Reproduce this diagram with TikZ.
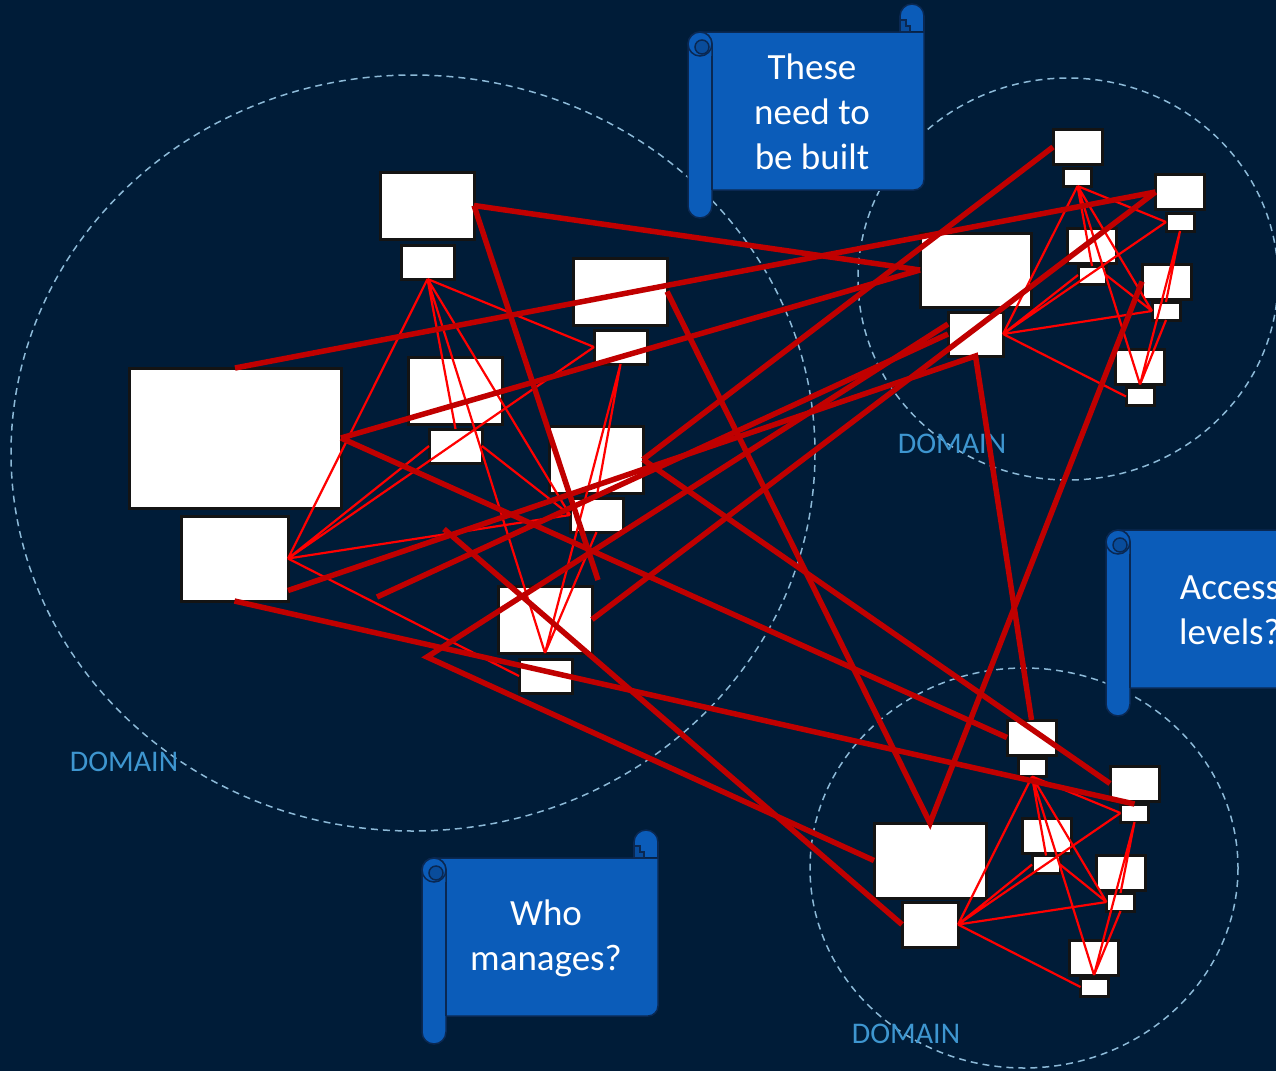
\documentclass[tikz,border=0pt]{standalone}
\usepackage{fontspec}
\setmainfont{Carlito}
\definecolor{navy}{RGB}{0,28,56}
\definecolor{scrollblue}{RGB}{11,92,185}
\definecolor{scrolldark}{RGB}{9,76,155}
\definecolor{scrolledge}{RGB}{10,40,82}
\definecolor{domline}{RGB}{140,185,215}
\definecolor{domtext}{RGB}{62,150,208}
\definecolor{boxedge}{RGB}{20,20,20}
\definecolor{wiredark}{RGB}{192,0,0}
\definecolor{wirered}{RGB}{255,0,0}
\newcommand{\scrollbox}[3]{%
  \begin{scope}[shift={(#1,#2)},line width=1.5pt]
    \filldraw[fill=scrollblue,draw=scrolledge] (12,0) -- (236,0) -- (236,148)
      arc[start angle=0,end angle=90,radius=10] -- (12,158) -- cycle;
    \filldraw[fill=scrollblue,draw=scrolledge] (224,-16) circle[radius=12];
    \fill[scrollblue] (212.8,-16) rectangle (235.2,-0.8);
    \draw[scrolledge] (212,-16) -- (212,0) (236,-16) -- (236,0);
    \filldraw[fill=scrolldark,draw=scrolledge] (212,0) -- (212,-12) -- (218,-12) -- (218,-6) -- (222,-6) -- (222,0) -- cycle;
    \filldraw[fill=scrollblue,draw=scrolledge,rounded corners=12pt] (0,0) rectangle (24,186);
    \filldraw[fill=scrollblue,draw=scrolledge] (12,12) circle[radius=12];
    \filldraw[fill=scrolldark,draw=scrolledge] (14,15) circle[radius=7];
    \draw[scrolledge] (24,24) -- (24,158);
    \node[text=white,align=center,font=\fontsize{37}{45}\selectfont] at (124,80) {#3};
  \end{scope}}
\begin{document}
\begin{tikzpicture}[x=1pt,y=-1pt,
  box/.style 2 args={draw=boxedge,fill=white,line width=3pt,minimum width=#1,minimum height=#2,inner sep=0pt,outer sep=0pt},
  midbox/.style={box={94pt}{67pt}},
  midsub/.style={box={53pt}{34pt}},
  tinybox/.style={box={49pt}{35pt}},
  tinysub/.style={box={28pt}{18pt}},
  bigwire/.style={draw=wiredark,line width=5.5pt},
  smallwire/.style={draw=wirered,line width=2.2pt},
  domainring/.style={draw=domline,line width=1.5pt,dash pattern=on 7pt off 5pt},
  domainlabel/.style={text=domtext,font=\fontsize{30}{36}\selectfont,inner sep=0pt}]
	\useasboundingbox (0,0) rectangle (1276,1071);
	\clip (0,0) rectangle (1276,1071);
	\fill[navy] (0,0) rectangle (1276,1071);
	\draw[domainring] (413,453) ellipse [x radius=402,y radius=378];
	\draw[domainring] (1068,279) ellipse [x radius=210,y radius=201];
	\draw[domainring] (1024,868) ellipse [x radius=214,y radius=200];
	\node[domainlabel] at (952,444) (dom1) {DOMAIN};
	\node[domainlabel] at (124,762) (dom2) {DOMAIN};
	\node[domainlabel] at (906,1034) (dom3) {DOMAIN};
	\node[box={212pt}{140pt}] at (235,438) (f) {};
	\node[box={107pt}{85pt}] at (234.5,558.5) (f-s) {};
	\node[midbox] at (427,205.5) (a) {};
	\node[midsub] at (427.5,262) (a-s) {};
	\node[midbox] at (620,291.5) (b) {};
	\node[midsub] at (620.5,347) (b-s) {};
	\node[midbox] at (455,390.5) (c) {};
	\node[midsub] at (455.5,446) (c-s) {};
	\node[midbox] at (596,459.5) (d) {};
	\node[midsub] at (596.5,515) (d-s) {};
	\node[midbox] at (545,619.5) (e) {};
	\node[midsub] at (545.5,676) (e-s) {};
	\node[box={111pt}{74pt}] at (975.5,270) (g) {};
	\node[box={55pt}{44pt}] at (975.5,334) (g-s) {};
	\node[tinybox] at (1077.5,147) (h) {};
	\node[tinysub] at (1077.5,177) (h-s) {};
	\node[tinybox] at (1180,192) (i) {};
	\node[tinysub] at (1180,222) (i-s) {};
	\node[tinybox] at (1092,245.5) (j) {};
	\node[tinysub] at (1092,275) (j-s) {};
	\node[tinybox] at (1166.5,281.5) (k) {};
	\node[tinysub] at (1166,311) (k-s) {};
	\node[tinybox] at (1140,367) (l) {};
	\node[tinysub] at (1140,396.5) (l-s) {};
	\node[box={112pt}{75pt}] at (930,860.5) (m) {};
	\node[box={56pt}{45pt}] at (930,924.5) (m-s) {};
	\node[tinybox] at (1031.5,737.5) (n) {};
	\node[tinysub] at (1032,767.5) (n-s) {};
	\node[tinybox] at (1134.5,783.5) (o) {};
	\node[tinysub] at (1134.5,813) (o-s) {};
	\node[tinybox] at (1046.5,835.5) (p) {};
	\node[tinysub] at (1046,864.5) (p-s) {};
	\node[tinybox] at (1120.5,872.5) (q) {};
	\node[tinysub] at (1120.5,902) (q-s) {};
	\node[tinybox] at (1094,957.5) (r) {};
	\node[tinysub] at (1094.5,987) (r-s) {};
	\coordinate (x1) at (598,580);
	\coordinate (x2) at (377,597);
	\coordinate (x3) at (427,657);
	\coordinate (x4) at (444,529);
	\draw[smallwire] (a-s.south) -- (f-s.east) (a-s.south) -- (b-s.west) (a-s.south) -- (c-s.north)
		(a-s.south) -- (d-s.west) (a-s.south) -- (e.south)
		(f-s.east) -- (b-s.west) (f-s.east) -- (c-s.west) (f-s.east) -- (d-s.west) (f-s.east) -- (e-s.west)
		(c-s.east) -- (d-s.west) (b-s.south) -- (d-s.north) (b-s.south) -- (e.south) (d-s.south) -- (e.south);
	\draw[smallwire] (h-s.south) -- (g-s.east) (h-s.south) -- (i-s.west) (h-s.south) -- (j-s.north)
		(h-s.south) -- (k-s.west) (h-s.south) -- (l.south)
		(g-s.east) -- (i-s.west) (g-s.east) -- (j-s.west) (g-s.east) -- (k-s.west) (g-s.east) -- (l-s.west)
		(j-s.east) -- (k-s.west) (i-s.south) -- (k-s.north) (i-s.south) -- (l.south) (k-s.south) -- (l.south);
	\draw[smallwire] (n-s.south) -- (m-s.east) (n-s.south) -- (o-s.west) (n-s.south) -- (p-s.north)
		(n-s.south) -- (q-s.west) (n-s.south) -- (r.south)
		(m-s.east) -- (o-s.west) (m-s.east) -- (p-s.west) (m-s.east) -- (q-s.west) (m-s.east) -- (r-s.west)
		(p-s.east) -- (q-s.west) (o-s.south) -- (q-s.north) (o-s.south) -- (r.south) (q-s.south) -- (r.south);
	\draw[bigwire] (a.east) -- (g.west) (a.east) -- (x1);
	\draw[bigwire] (f.north) -- (i.west) (e.east) -- (i.west);
	\draw[bigwire] (f.east) -- (g.west) (f.east) -- (n.west);
	\draw[bigwire] ([yshift=-32pt]f-s.east) -- (g-s.south) -- (n.north);
	\draw[bigwire] (x2) -- (g-s.west);
	\draw[bigwire] (d.east) -- (h.west) (d.east) -- (o.west);
	\draw[bigwire] ([yshift=10pt]g-s.west) -- (x3) -- (m.west);
	\draw[bigwire] (b.east) -- (m.north) -- (k.west);
	\draw[bigwire] (x4) -- (m-s.west);
	\draw[bigwire] (f-s.south) -- (o-s.north);
	\scrollbox{688}{32}{These\\need to\\be built}
	\scrollbox{422}{858}{Who\\manages?}
	\scrollbox{1106}{530}{Access\\levels?}
\end{tikzpicture}
\end{document}
